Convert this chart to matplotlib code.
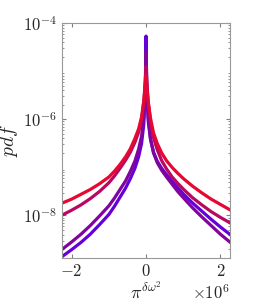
import numpy as np
import matplotlib
matplotlib.use('Agg')
import matplotlib.pyplot as plt
from matplotlib.ticker import ScalarFormatter, LogLocator

plt.rcParams['mathtext.fontset'] = 'cm'
plt.rcParams['font.family'] = 'serif'
plt.rcParams['font.serif'] = ['cmr10', 'DejaVu Serif']
plt.rcParams['axes.formatter.use_mathtext'] = True
plt.rcParams['axes.unicode_minus'] = False

# sample positions (delta omega^2)
x_vals = [-2.25e6, -2.0e6, -1.75e6, -1.5e6, -1.25e6, -1.0e6, -0.85e6, -0.7e6, -0.55e6,
          -0.42e6, -0.3e6, -0.2e6, -0.12e6, -0.06e6, -0.02e6, 0.0,
          0.02e6, 0.06e6, 0.12e6, 0.2e6, 0.3e6, 0.42e6, 0.55e6, 0.7e6, 0.85e6,
          1.0e6, 1.25e6, 1.5e6, 1.75e6, 2.0e6, 2.25e6]

# log10(pdf), one list per curve
log_blue = [-8.85, -8.71, -8.56, -8.39, -8.19, -7.98, -7.81, -7.62, -7.43,
            -7.23, -7.02, -6.78, -6.50, -6.10, -5.40, -4.27,
            -5.40, -6.05, -6.42, -6.68, -6.87, -7.02, -7.15, -7.29, -7.42,
            -7.55, -7.74, -7.91, -8.08, -8.24, -8.39]
log_purple = [-8.70, -8.55, -8.39, -8.21, -8.01, -7.80, -7.64, -7.46, -7.28,
              -7.08, -6.87, -6.62, -6.35, -5.95, -5.30, -4.60,
              -5.35, -5.98, -6.40, -6.70, -6.90, -7.06, -7.20, -7.35, -7.50,
              -7.63, -7.84, -8.03, -8.21, -8.39, -8.55]
log_darkred = [-7.99, -7.89, -7.78, -7.65, -7.50, -7.32, -7.18, -7.02, -6.85,
               -6.68, -6.48, -6.27, -6.00, -5.62, -5.20, -4.90,
               -5.22, -5.65, -6.05, -6.38, -6.63, -6.86, -7.03, -7.20, -7.33,
               -7.45, -7.63, -7.78, -7.92, -8.04, -8.15]
log_red = [-7.74, -7.66, -7.56, -7.46, -7.34, -7.20, -7.08, -6.94, -6.78,
           -6.61, -6.40, -6.20, -5.95, -5.62, -5.30, -5.08,
           -5.32, -5.65, -5.98, -6.28, -6.50, -6.70, -6.86, -7.00, -7.12,
           -7.23, -7.39, -7.53, -7.66, -7.77, -7.88]

curves = [log_blue, log_purple, log_darkred, log_red]
colors = [(0.40, 0.0, 0.85), (0.50, 0.02, 0.62), (0.72, 0.03, 0.38), (0.90, 0.03, 0.20)]

fig = plt.figure(figsize=(2.54, 3.08), dpi=100)
ax = fig.add_axes([0.244, 0.162, 0.662, 0.763])

for logs, c in zip(curves, colors):
    ax.plot(x_vals, 10.0 ** np.array(logs), color=c, lw=2.3, solid_joinstyle='round')

ax.set_yscale('log')
ax.set_ylim(1.3e-9, 1e-4)
ax.set_xlim(-2.26e6, 2.26e6)
ax.set_xticks([-2e6, 0, 2e6])
ax.set_yticks([1e-8, 1e-6, 1e-4])
ax.yaxis.set_minor_locator(LogLocator(base=10, subs=np.arange(2, 10)))
ax.yaxis.set_minor_formatter(plt.NullFormatter())

fmt = ScalarFormatter(useMathText=True)
fmt.set_powerlimits((0, 0))
ax.xaxis.set_major_formatter(fmt)

for s in ax.spines.values():
    s.set_color('0.6')
    s.set_linewidth(0.8)
ax.tick_params(which='both', direction='in', top=True, right=True, colors='0.5',
               labelcolor='0.15', labelsize=12)
ax.tick_params(which='major', length=3)
ax.tick_params(which='minor', length=1.5)

ax.set_ylabel('$pdf$', fontsize=14, color='0.15', labelpad=2)
ax.set_xlabel(r'$\pi^{\delta\omega^2}$', fontsize=13, color='0.15', labelpad=1)
ax.xaxis.get_offset_text().set_fontsize(12)
ax.xaxis.get_offset_text().set_color('0.15')

fig.savefig('out.png', dpi=100)
